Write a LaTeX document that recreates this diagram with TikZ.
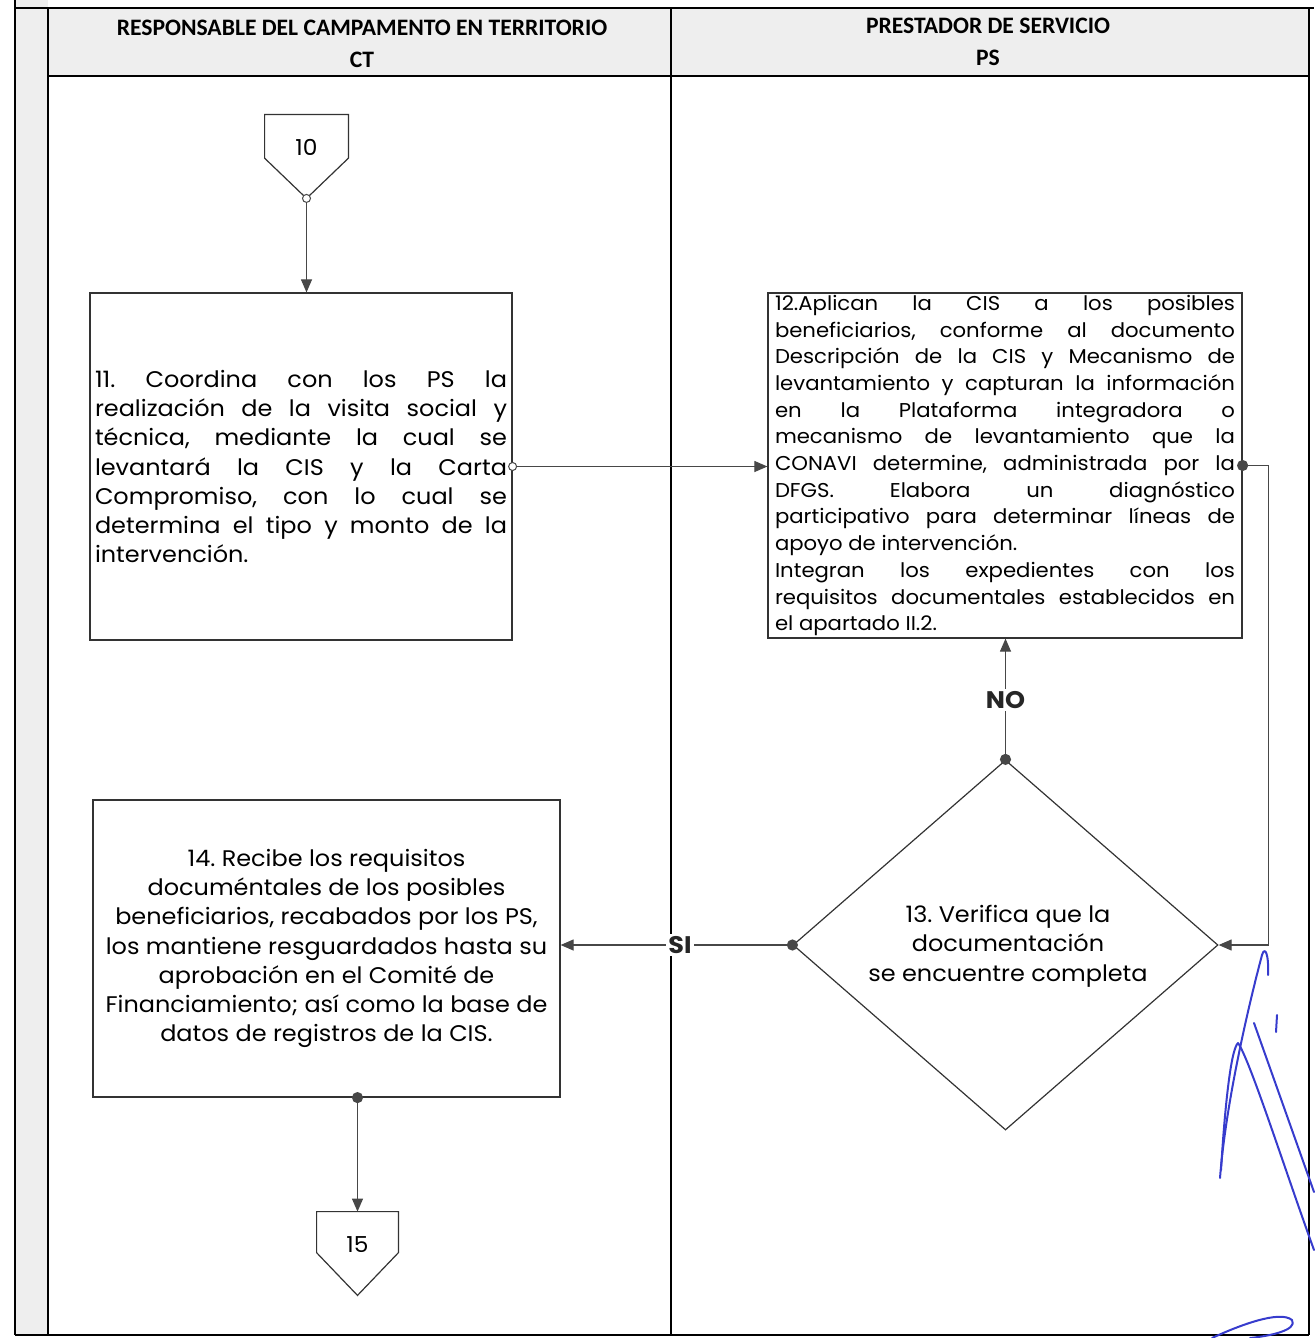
\documentclass[tikz,border=0pt]{standalone}
\usepackage{fontspec}
\setmainfont{Poppins}[FakeStretch=1.06]
\newfontfamily\headfont{Carlito}
\usetikzlibrary{arrows.meta,shapes.geometric,calc}
\definecolor{ink}{RGB}{55,60,205}
\definecolor{lanefill}{RGB}{238,238,238}

\begin{document}
\frenchspacing
\begin{tikzpicture}[x=0.5pt,y=-0.5pt,
  lane/.style={draw=black, line width=0.9pt},
  box/.style={draw=black!80, line width=0.6pt, rectangle, inner sep=0pt},
  shapeline/.style={draw=black!80, line width=0.6pt, line join=miter},
  flow/.style={draw=black!72, line width=0.55pt, -{Triangle[length=6.5pt,width=5.5pt]}},
  lbl/.style={fill=white, inner sep=1pt, font=\bfseries\fontsize{12}{14}\selectfont, text=black!85},
  headtext/.style={align=center, font=\headfont\bfseries\fontsize{11.8}{16}\selectfont},
  sig/.style={draw=ink, line width=1pt, line cap=round, line join=round}]
\useasboundingbox (0,0) rectangle (1314,1338);

% swimlane frame
\fill[lanefill] (15,0) rectangle (48,1335);
\fill[lanefill] (48,8) rectangle (1309,76);
\draw[lane] (15,0) -- (15,1335);
\draw[lane] (48,8) -- (48,1335);
\draw[lane] (15,8) -- (1314,8);
\draw[lane] (48,76) -- (1309,76);
\draw[lane] (671,8) -- (671,1335);
\draw[lane] (1309,8) -- (1309,1335);
\draw[lane] (15,1335) -- (1309,1335);

% lane headings
\node[headtext] (hct) at (362,44) {RESPONSABLE DEL CAMPAMENTO EN TERRITORIO\\CT};
\node[headtext] (hps) at (988,42) {PRESTADOR DE SERVICIO\\PS};

% off-page connector 10
\node[inner sep=0pt, minimum width=41.5pt, minimum height=41.5pt] (p10) at (306.5,156.5) {};
\draw[shapeline] (p10.north west) -- (p10.north east)
  -- ($(p10.north east)!0.52!(p10.south east)$) -- (p10.south)
  -- ($(p10.north west)!0.52!(p10.south west)$) -- cycle;
\node[font=\fontsize{11}{13}\selectfont] (n10) at ($(p10.center)+(0,-9.5)$) {10};

% step 11
\node[box, minimum width=211pt, minimum height=173.5pt] (b11) at (301,466.5)
 {\parbox{206pt}{\fontsize{11.3}{14.65}\selectfont\hyphenpenalty=10000\tolerance=10000
 11. Coordina con los PS la\linebreak
 realización de la visita social y\linebreak
 técnica, mediante la cual se\linebreak
 levantará la CIS y la Carta\linebreak
 Compromiso, con lo cual se\linebreak
 determina el tipo y monto de la\linebreak
 intervención.}};

% step 12
\node[box, minimum width=237pt, minimum height=172.5pt] (b12) at (1005,465.5)
 {\parbox{230pt}{\fontsize{10}{13.35}\selectfont\hyphenpenalty=10000\tolerance=10000
 12.Aplican la CIS a los posibles\linebreak
 beneficiarios, conforme al documento\linebreak
 Descripción de la CIS y Mecanismo de\linebreak
 levantamiento y capturan la información\linebreak
 en la Plataforma integradora o\linebreak
 mecanismo de levantamiento que la\linebreak
 CONAVI determine, administrada por la\linebreak
 DFGS. Elabora un diagnóstico\linebreak
 participativo para determinar líneas de\linebreak
 apoyo de intervención.\par
 Integran los expedientes con los\linebreak
 requisitos documentales establecidos en\linebreak
 el apartado II.2.}};

% decision 13
\node[diamond, draw=black!80, line width=0.6pt, inner sep=0pt,
      minimum width=212.5pt, minimum height=185pt] (d13) at (1005.5,945) {};
\node[align=center, font=\fontsize{11.3}{14.75}\selectfont] (t13) at (1008,946)
 {13. Verifica que la\\documentación\\se encuentre completa};

% step 14
\node[box, minimum width=233.5pt, minimum height=148.5pt] (b14) at (326.5,948.5)
 {\parbox{230pt}{\centering\fontsize{11.3}{14.65}\selectfont
 14. Recibe los requisitos\\
 documéntales de los posibles\\
 beneficiarios, recabados por los PS,\\
 los mantiene resguardados hasta su\\
 aprobación en el Comité de\\
 Financiamiento; así como la base de\\
 datos de registros de la CIS.}};

% off-page connector 15
\node[inner sep=0pt, minimum width=40.5pt, minimum height=41.5pt] (p15) at (357.5,1253.5) {};
\draw[shapeline] (p15.north west) -- (p15.north east)
  -- ($(p15.north east)!0.49!(p15.south east)$) -- (p15.south)
  -- ($(p15.north west)!0.49!(p15.south west)$) -- cycle;
\node[font=\fontsize{11}{13}\selectfont] (n15) at ($(p15.center)+(0,-8.5)$) {15};

% connectors
\draw[flow] (p10.south) -- (p10.south |- b11.north);
\draw[flow] (b11.east) -- (b11.east -| b12.west);
\draw[flow] (b12.east) -- ++(26,0) |- (d13.east);
\draw[flow] (d13.north) -- (d13.north |- b12.south);
\draw[flow] (d13.west) -- (d13.west -| b14.east);
\draw[flow] (b14.south -| p15.north) -- (p15.north);

% branch labels
\node[lbl] (no) at (1005.5,700) {NO};
\node[lbl] (si) at (680,945) {SI};

% connector end markers
\draw[draw=black!72, fill=white, line width=0.5pt] (p10.south) circle (2pt);
\draw[draw=black!72, fill=white, line width=0.5pt] (b11.east) circle (2pt);
\fill[black!72] (b12.east) circle (2.8pt);
\fill[black!72] (d13.north) circle (2.8pt);
\fill[black!72] (d13.west) circle (2.8pt);
\fill[black!72] (b14.south -| p15.north) circle (2.8pt);

% handwritten signature
\draw[sig] (1268,975) .. controls (1269,955) and (1265,945) .. (1262,955)
  .. controls (1250,1000) and (1226,1100) .. (1220,1178);
\draw[sig] (1221,1170) .. controls (1224,1120) and (1230,1050) .. (1238,1043)
  .. controls (1250,1060) and (1285,1170) .. (1314,1250);
\draw[sig] (1254,1023) -- (1314,1192);
\draw[sig] (1277,1015) -- (1276,1032);
\draw[sig] (1212,1338) .. controls (1240,1325) and (1280,1310) .. (1292,1320)
  .. controls (1298,1330) and (1270,1336) .. (1250,1338);
\end{tikzpicture}
\end{document}
